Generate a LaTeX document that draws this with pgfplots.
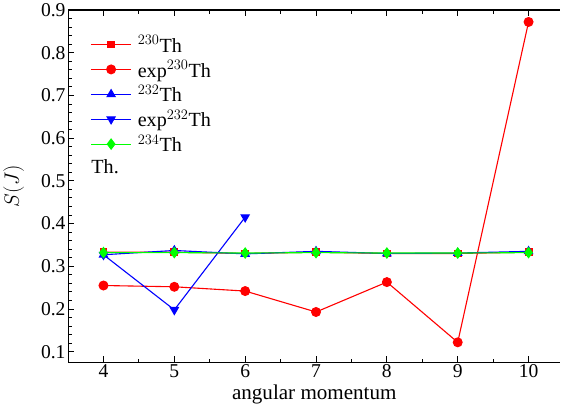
\documentclass[border=0pt]{standalone}
\usepackage{pgfplots}
\pgfplotsset{compat=1.18}
\usepackage{fontspec}
\setmainfont{Liberation Serif}
\begin{document}
\begin{tikzpicture}
\begin{axis}[
  scale only axis, width=489bp, height=350bp,
  xmin=3.5, xmax=10.45, ymin=0.075, ymax=0.9,
  axis x line*=box, axis y line*=left,
  xtick={4,5,6,7,8,9,10}, minor x tick num=1,
  ytick={0.1,0.2,0.3,0.4,0.5,0.6,0.7,0.8,0.9}, minor y tick num=4,
  yticklabel style={/pgf/number format/fixed, /pgf/number format/precision=1},
  /pgf/number format/assume math mode=true,
  tick align=inside, ytick pos=left, xtick pos=both,
  major tick length=6bp, minor tick length=3.5bp,
  tick style={black, line width=0.9pt},
  axis line style={line width=1.1pt, black},
  ticklabel style={font=\fontsize{19.5}{19.5}\selectfont},
  xticklabel style={yshift=1bp},
  yticklabel style={xshift=1bp},
  xlabel={angular momentum}, ylabel={$S(J)$},
  label style={font=\fontsize{21}{21}\selectfont},
  xlabel style={yshift=0bp},
  ylabel style={yshift=10bp},
  legend style={draw=none, fill=none, at={(0.045,0.94)}, anchor=north west,
    font=\fontsize{20}{20}\selectfont, row sep=2.5bp, inner xsep=0pt,
    nodes={inner xsep=6bp}},
  legend cell align=left,
  legend image code/.code={\draw[line width=1.1pt, mark repeat=2,mark phase=2] plot coordinates {(0bp,0bp)(20bp,0bp)(40bp,0bp)};},
  every axis plot/.append style={line width=1.1pt},
]
\addplot[red, mark=square*, mark size=3.4pt] coordinates {(4,0.333)(5,0.333)(6,0.330)(7,0.333)(8,0.330)(9,0.330)(10,0.333)};
\addlegendentry{$^{230}$Th}
\addplot[red, mark=*, mark size=4.4pt] coordinates {(4,0.255)(5,0.252)(6,0.242)(7,0.193)(8,0.263)(9,0.122)(10,0.872)};
\addlegendentry{exp$^{230}$Th}
\addplot[blue, mark=triangle*, mark size=4.6pt] coordinates {(4,0.327)(5,0.337)(6,0.329)(7,0.335)(8,0.330)(9,0.331)(10,0.335)};
\addlegendentry{$^{232}$Th}
\addplot[blue, mark=triangle*, mark options={rotate=180}, mark size=4.6pt] coordinates {(4,0.327)(5,0.198)(6,0.415)};
\addlegendentry{exp$^{232}$Th}
\addplot[green, mark=diamond*, mark size=5pt] coordinates {(4,0.332)(5,0.332)(6,0.331)(7,0.332)(8,0.331)(9,0.331)(10,0.332)};
\addlegendentry{$^{234}$Th}
\addlegendimage{empty legend}
\addlegendentry{\hspace{-54bp}Th.}
\end{axis}
\end{tikzpicture}
\end{document}
